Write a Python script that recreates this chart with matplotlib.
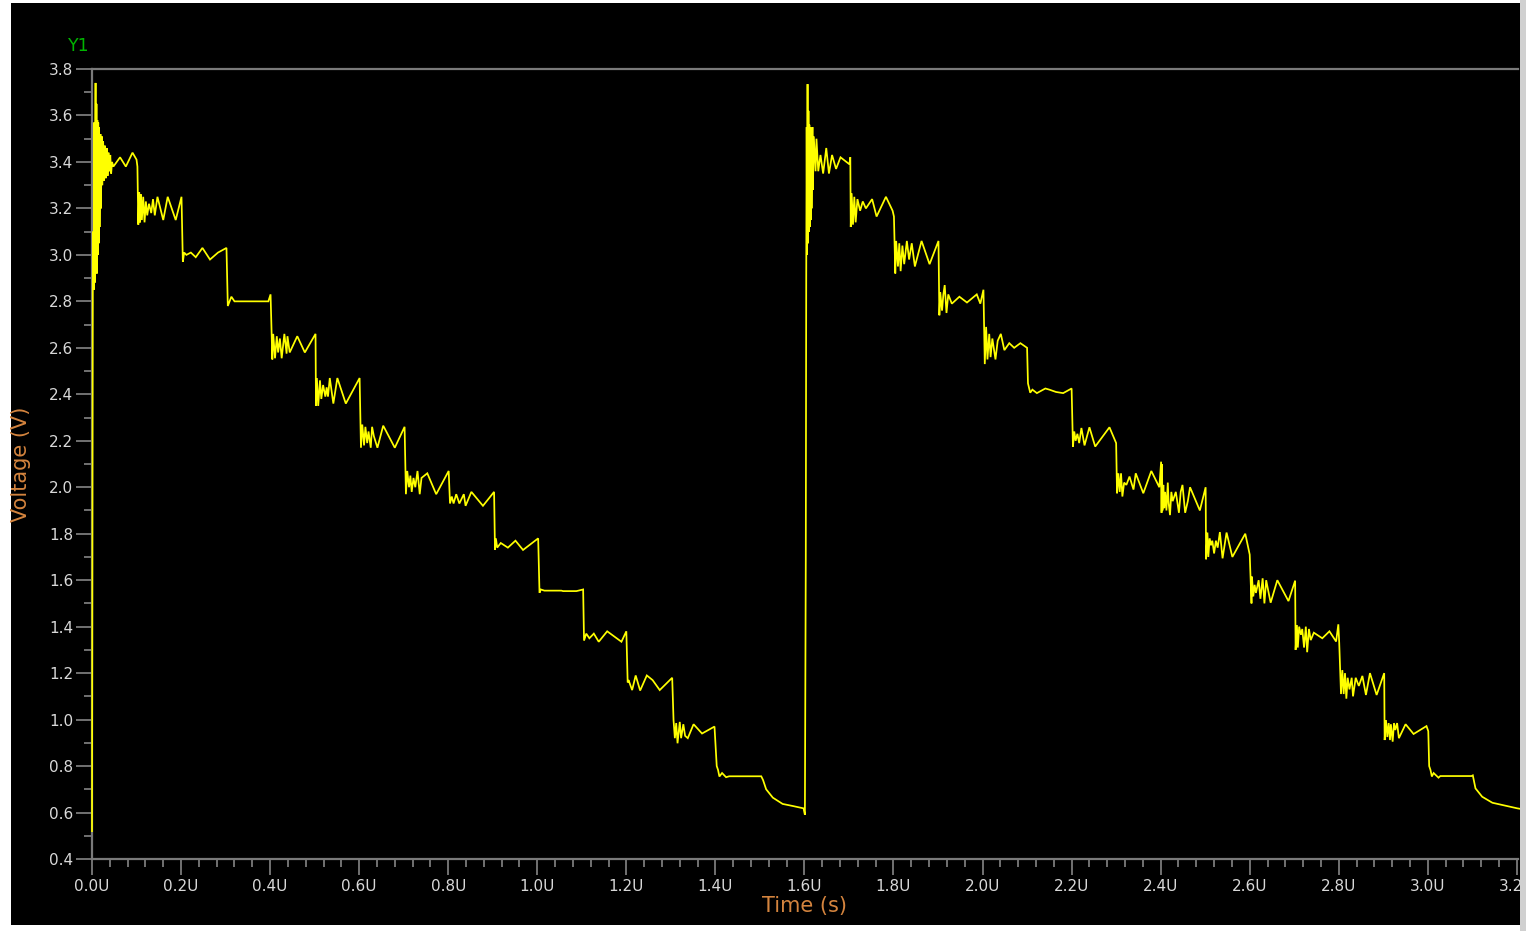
'''
sawtooth-like voltage staircase, two discharge cycles
'''
import numpy as np
import matplotlib.pyplot as plt
from matplotlib.patches import Rectangle
from matplotlib.ticker import MultipleLocator, FuncFormatter

# cycle 1 (time in U, voltage in V), one row per step
t1 = [0.000, 0.001, 0.002, 0.004, 0.005, 0.006, 0.008, 0.009, 0.010, 0.011, 0.012, 0.013, 0.014, 0.015, 0.016, 0.017,
      0.019, 0.020, 0.022, 0.023, 0.025, 0.027, 0.029, 0.031, 0.033, 0.035, 0.037, 0.039, 0.041, 0.043, 0.045,
      0.048, 0.063, 0.076, 0.091, 0.100, 0.102,
      0.104, 0.106, 0.108, 0.110, 0.112, 0.115, 0.118, 0.121, 0.124, 0.128, 0.133, 0.137, 0.141, 0.147, 0.160, 0.170, 0.188, 0.201,
      0.204, 0.207, 0.212, 0.222, 0.233, 0.248, 0.265, 0.283, 0.302,
      0.305, 0.313, 0.320, 0.347, 0.396, 0.401,
      0.405, 0.407, 0.411, 0.415, 0.418, 0.422, 0.426, 0.432, 0.437, 0.439, 0.444, 0.461, 0.478, 0.502,
      0.503, 0.505, 0.508, 0.512, 0.515, 0.519, 0.524, 0.527, 0.530, 0.534, 0.542, 0.551, 0.570, 0.601,
      0.604, 0.607, 0.611, 0.614, 0.618, 0.621, 0.626, 0.629, 0.633, 0.641, 0.654, 0.680, 0.702,
      0.705, 0.708, 0.712, 0.715, 0.718, 0.722, 0.726, 0.731, 0.736, 0.740, 0.753, 0.773, 0.801,
      0.804, 0.808, 0.812, 0.818, 0.825, 0.835, 0.839, 0.852, 0.878, 0.903,
      0.905, 0.907, 0.910, 0.918, 0.934, 0.951, 0.968, 1.002,
      1.005, 1.008, 1.016, 1.032, 1.054, 1.058, 1.088, 1.103,
      1.105, 1.110, 1.117, 1.127, 1.138, 1.157, 1.189, 1.200,
      1.203, 1.205, 1.213, 1.221, 1.231, 1.246, 1.259, 1.275, 1.303,
      1.306, 1.309, 1.312, 1.315, 1.320, 1.323, 1.328, 1.332, 1.338, 1.351, 1.370, 1.398,
      1.403, 1.406, 1.409, 1.415, 1.424, 1.431, 1.503,
      1.507, 1.514, 1.529, 1.551, 1.574, 1.598, 1.601]
v1 = [0.52, 1.68, 3.10, 2.85, 3.57, 2.88, 3.74, 2.95, 3.65, 2.92, 3.58, 3.00, 3.57, 3.05, 3.55, 3.12,
      3.52, 3.20, 3.51, 3.30, 3.49, 3.32, 3.47, 3.33, 3.46, 3.34, 3.44, 3.36, 3.43, 3.35, 3.40,
      3.38, 3.42, 3.38, 3.44, 3.41, 3.38,
      3.13, 3.27, 3.14, 3.26, 3.15, 3.25, 3.14, 3.23, 3.17, 3.22, 3.18, 3.24, 3.17, 3.25, 3.15, 3.25, 3.15, 3.25,
      2.97, 3.01, 3.00, 3.01, 2.99, 3.03, 2.98, 3.01, 3.03,
      2.78, 2.82, 2.80, 2.80, 2.80, 2.83,
      2.55, 2.66, 2.555, 2.65, 2.58, 2.64, 2.555, 2.66, 2.575, 2.65, 2.58, 2.65, 2.58, 2.66,
      2.35, 2.47, 2.35, 2.46, 2.38, 2.44, 2.39, 2.43, 2.39, 2.47, 2.36, 2.47, 2.36, 2.47,
      2.17, 2.27, 2.18, 2.26, 2.19, 2.24, 2.17, 2.26, 2.22, 2.17, 2.265, 2.17, 2.26,
      1.97, 2.07, 2.00, 2.05, 1.98, 2.04, 2.00, 2.07, 1.97, 2.04, 2.06, 1.97, 2.07,
      1.93, 1.96, 1.93, 1.97, 1.93, 1.97, 1.92, 1.98, 1.92, 1.98,
      1.73, 1.78, 1.74, 1.76, 1.74, 1.77, 1.73, 1.78,
      1.546, 1.56, 1.555, 1.555, 1.555, 1.553, 1.553, 1.56,
      1.34, 1.37, 1.35, 1.37, 1.335, 1.38, 1.335, 1.38,
      1.16, 1.17, 1.127, 1.19, 1.125, 1.19, 1.17, 1.127, 1.18,
      0.998, 0.92, 0.985, 0.898, 0.99, 0.92, 0.98, 0.93, 0.92, 0.98, 0.94, 0.97,
      0.80, 0.783, 0.755, 0.77, 0.752, 0.756, 0.756,
      0.74, 0.70, 0.664, 0.637, 0.628, 0.618, 0.59]

# cycle 2
t2 = [1.603, 1.604, 1.605, 1.606, 1.607, 1.608, 1.609, 1.610, 1.611, 1.612, 1.613, 1.614, 1.615, 1.616, 1.618, 1.619,
      1.621, 1.625, 1.627, 1.631, 1.636, 1.642, 1.649, 1.655, 1.662, 1.671, 1.681, 1.701, 1.703,
      1.704, 1.706, 1.709, 1.712, 1.715, 1.719, 1.725, 1.731, 1.738, 1.752, 1.762, 1.783, 1.798, 1.801,
      1.804, 1.806, 1.810, 1.813, 1.816, 1.820, 1.824, 1.830, 1.835, 1.841, 1.848, 1.863, 1.881, 1.901,
      1.903, 1.905, 1.909, 1.912, 1.915, 1.919, 1.923, 1.931, 1.948, 1.965, 1.987, 1.995, 2.002,
      2.005, 2.008, 2.011, 2.015, 2.018, 2.022, 2.029, 2.034, 2.041, 2.049, 2.060, 2.071, 2.085, 2.100,
      2.102, 2.107, 2.112, 2.122, 2.141, 2.150, 2.165, 2.181, 2.200,
      2.203, 2.206, 2.209, 2.213, 2.217, 2.222, 2.229, 2.240, 2.253, 2.285, 2.300,
      2.302, 2.305, 2.308, 2.311, 2.314, 2.318, 2.323, 2.330, 2.339, 2.344, 2.361, 2.379, 2.397, 2.401,
      2.402, 2.403, 2.404, 2.406, 2.408, 2.410, 2.413, 2.416, 2.418, 2.421, 2.424, 2.427, 2.434, 2.441, 2.445,
      2.449, 2.455, 2.461, 2.466, 2.488, 2.501,
      2.502, 2.505, 2.507, 2.510, 2.513, 2.516, 2.520, 2.524, 2.528, 2.533, 2.539, 2.548, 2.561, 2.590, 2.600,
      2.604, 2.605, 2.608, 2.611, 2.614, 2.620, 2.624, 2.629, 2.633, 2.637, 2.641, 2.647, 2.662, 2.687, 2.702,
      2.703, 2.706, 2.708, 2.711, 2.715, 2.718, 2.722, 2.726, 2.729, 2.733, 2.737, 2.744, 2.763, 2.779, 2.794,
      2.799, 2.801,
      2.805, 2.808, 2.811, 2.814, 2.817, 2.820, 2.824, 2.829, 2.832, 2.838, 2.845, 2.853, 2.861, 2.870, 2.885,
      2.902,
      2.903, 2.906, 2.909, 2.912, 2.915, 2.917, 2.921, 2.924, 2.927, 2.931, 2.935, 2.950, 2.968, 2.997, 3.001,
      3.003, 3.006, 3.009, 3.013, 3.024, 3.028, 3.098, 3.101,
      3.107, 3.122, 3.145, 3.168, 3.201, 3.210]
v2 = [1.69, 2.90, 3.55, 3.00, 3.735, 3.05, 3.62, 3.10, 3.56, 3.12, 3.55, 3.15, 3.54, 3.20, 3.55, 3.28,
      3.51, 3.36, 3.50, 3.36, 3.43, 3.35, 3.46, 3.35, 3.43, 3.37, 3.42, 3.39, 3.42,
      3.12, 3.265, 3.13, 3.25, 3.14, 3.24, 3.19, 3.23, 3.20, 3.24, 3.165, 3.25, 3.19, 3.165,
      2.92, 3.06, 2.95, 3.05, 2.93, 3.04, 2.96, 3.06, 2.98, 3.05, 2.95, 3.06, 2.96, 3.06,
      2.74, 2.84, 2.76, 2.83, 2.87, 2.75, 2.83, 2.79, 2.82, 2.795, 2.83, 2.79, 2.85,
      2.53, 2.69, 2.55, 2.66, 2.56, 2.64, 2.55, 2.63, 2.66, 2.59, 2.62, 2.60, 2.62, 2.60,
      2.447, 2.407, 2.42, 2.405, 2.425, 2.42, 2.41, 2.405, 2.425,
      2.175, 2.24, 2.20, 2.23, 2.19, 2.255, 2.18, 2.258, 2.175, 2.258, 2.19,
      1.974, 2.06, 1.98, 2.06, 1.96, 2.02, 2.01, 2.046, 1.99, 2.06, 1.974, 2.07, 2.00, 2.11,
      1.89, 2.10, 1.90, 2.01, 1.91, 1.98, 1.90, 2.02, 1.93, 1.88, 1.98, 1.94, 1.98, 1.89, 1.98,
      2.01, 1.89, 1.94, 2.00, 1.90, 2.00,
      1.69, 1.805, 1.70, 1.78, 1.75, 1.77, 1.715, 1.77, 1.74, 1.807, 1.694, 1.805, 1.70, 1.80, 1.71,
      1.50, 1.615, 1.53, 1.58, 1.545, 1.60, 1.52, 1.608, 1.50, 1.60, 1.56, 1.503, 1.60, 1.51, 1.598,
      1.30, 1.407, 1.31, 1.40, 1.365, 1.39, 1.31, 1.40, 1.29, 1.39, 1.342, 1.374, 1.35, 1.38, 1.336,
      1.41, 1.33,
      1.11, 1.213, 1.11, 1.20, 1.09, 1.18, 1.13, 1.18, 1.10, 1.18, 1.145, 1.188, 1.106, 1.20, 1.106,
      1.20,
      0.912, 0.998, 0.925, 0.985, 0.912, 0.98, 0.905, 0.985, 0.955, 0.985, 0.92, 0.98, 0.938, 0.972, 0.95,
      0.80, 0.783, 0.755, 0.77, 0.75, 0.757, 0.757, 0.76,
      0.704, 0.668, 0.642, 0.632, 0.618, 0.615]

xmin, xmax = 0.0, 3.2
ymin, ymax = 0.4, 3.8

axis_col = '#7a7a7a'
text_col = '#d8d8d8'
label_col = '#d4843e'

W, H = 1526, 931
fig = plt.figure(figsize=(W/100, H/100), dpi=100)
fig.patch.set_facecolor('white')
# black panel and grey window edge
fig.add_artist(Rectangle((11/W, 6/H), (1520-11)/W, (928-6)/H, transform=fig.transFigure,
                         facecolor='black', edgecolor='none', zorder=-5))

ax = fig.add_axes([92/W, (H-859)/H, (1518-92)/W, (859-69)/H])
ax.set_facecolor('black')

t = np.array(t1 + t2)
v = np.array(v1 + v2)
ax.plot(t, v, color='#ffff00', lw=1.25, solid_joinstyle='miter', zorder=4, clip_on=False)

ax.set_xlim(xmin, 3.2025)
ax.set_ylim(ymin, ymax)

for s in ['right']:
    ax.spines[s].set_visible(False)
for s in ['left', 'bottom', 'top']:
    ax.spines[s].set_color(axis_col)
    ax.spines[s].set_linewidth(1.6)

ax.xaxis.set_major_locator(MultipleLocator(0.2))
ax.xaxis.set_minor_locator(MultipleLocator(0.04))
ax.yaxis.set_major_locator(MultipleLocator(0.2))
ax.yaxis.set_minor_locator(MultipleLocator(0.1))
ax.xaxis.set_major_formatter(FuncFormatter(lambda x, p: f'{x:.1f}U'))
ax.yaxis.set_major_formatter(FuncFormatter(lambda y, p: f'{y:.1f}'))

ax.tick_params(which='major', length=11.5, width=1.3, color=axis_col, labelcolor=text_col, labelsize=11)
ax.tick_params(which='minor', length=5.5, width=1.3, color=axis_col)
ax.tick_params(axis='y', which='both', direction='out', pad=2)
ax.tick_params(axis='x', which='both', direction='out', pad=3)

ax.set_xlabel('Time (s)', color=label_col, fontsize=15)
ax.xaxis.set_label_coords(0.5, -(906-859)/790)
ax.xaxis.label.set_va('center')
ax.set_ylabel('Voltage (V)', color=label_col, fontsize=15)
ax.yaxis.set_label_coords(-(92-21)/1426, 0.5)
ax.yaxis.label.set_va('center')

ax.text(-(92-79)/1426, (859-46)/790, 'Y1', transform=ax.transAxes, color='#00b400',
        fontsize=12.5, ha='center', va='center')

fig.add_artist(Rectangle((1520/W, 0), 6/W, 1, transform=fig.transFigure,
                         facecolor='#d0d0d0', edgecolor='none', zorder=10))

fig.savefig('out.png', dpi=100, facecolor=fig.get_facecolor())
